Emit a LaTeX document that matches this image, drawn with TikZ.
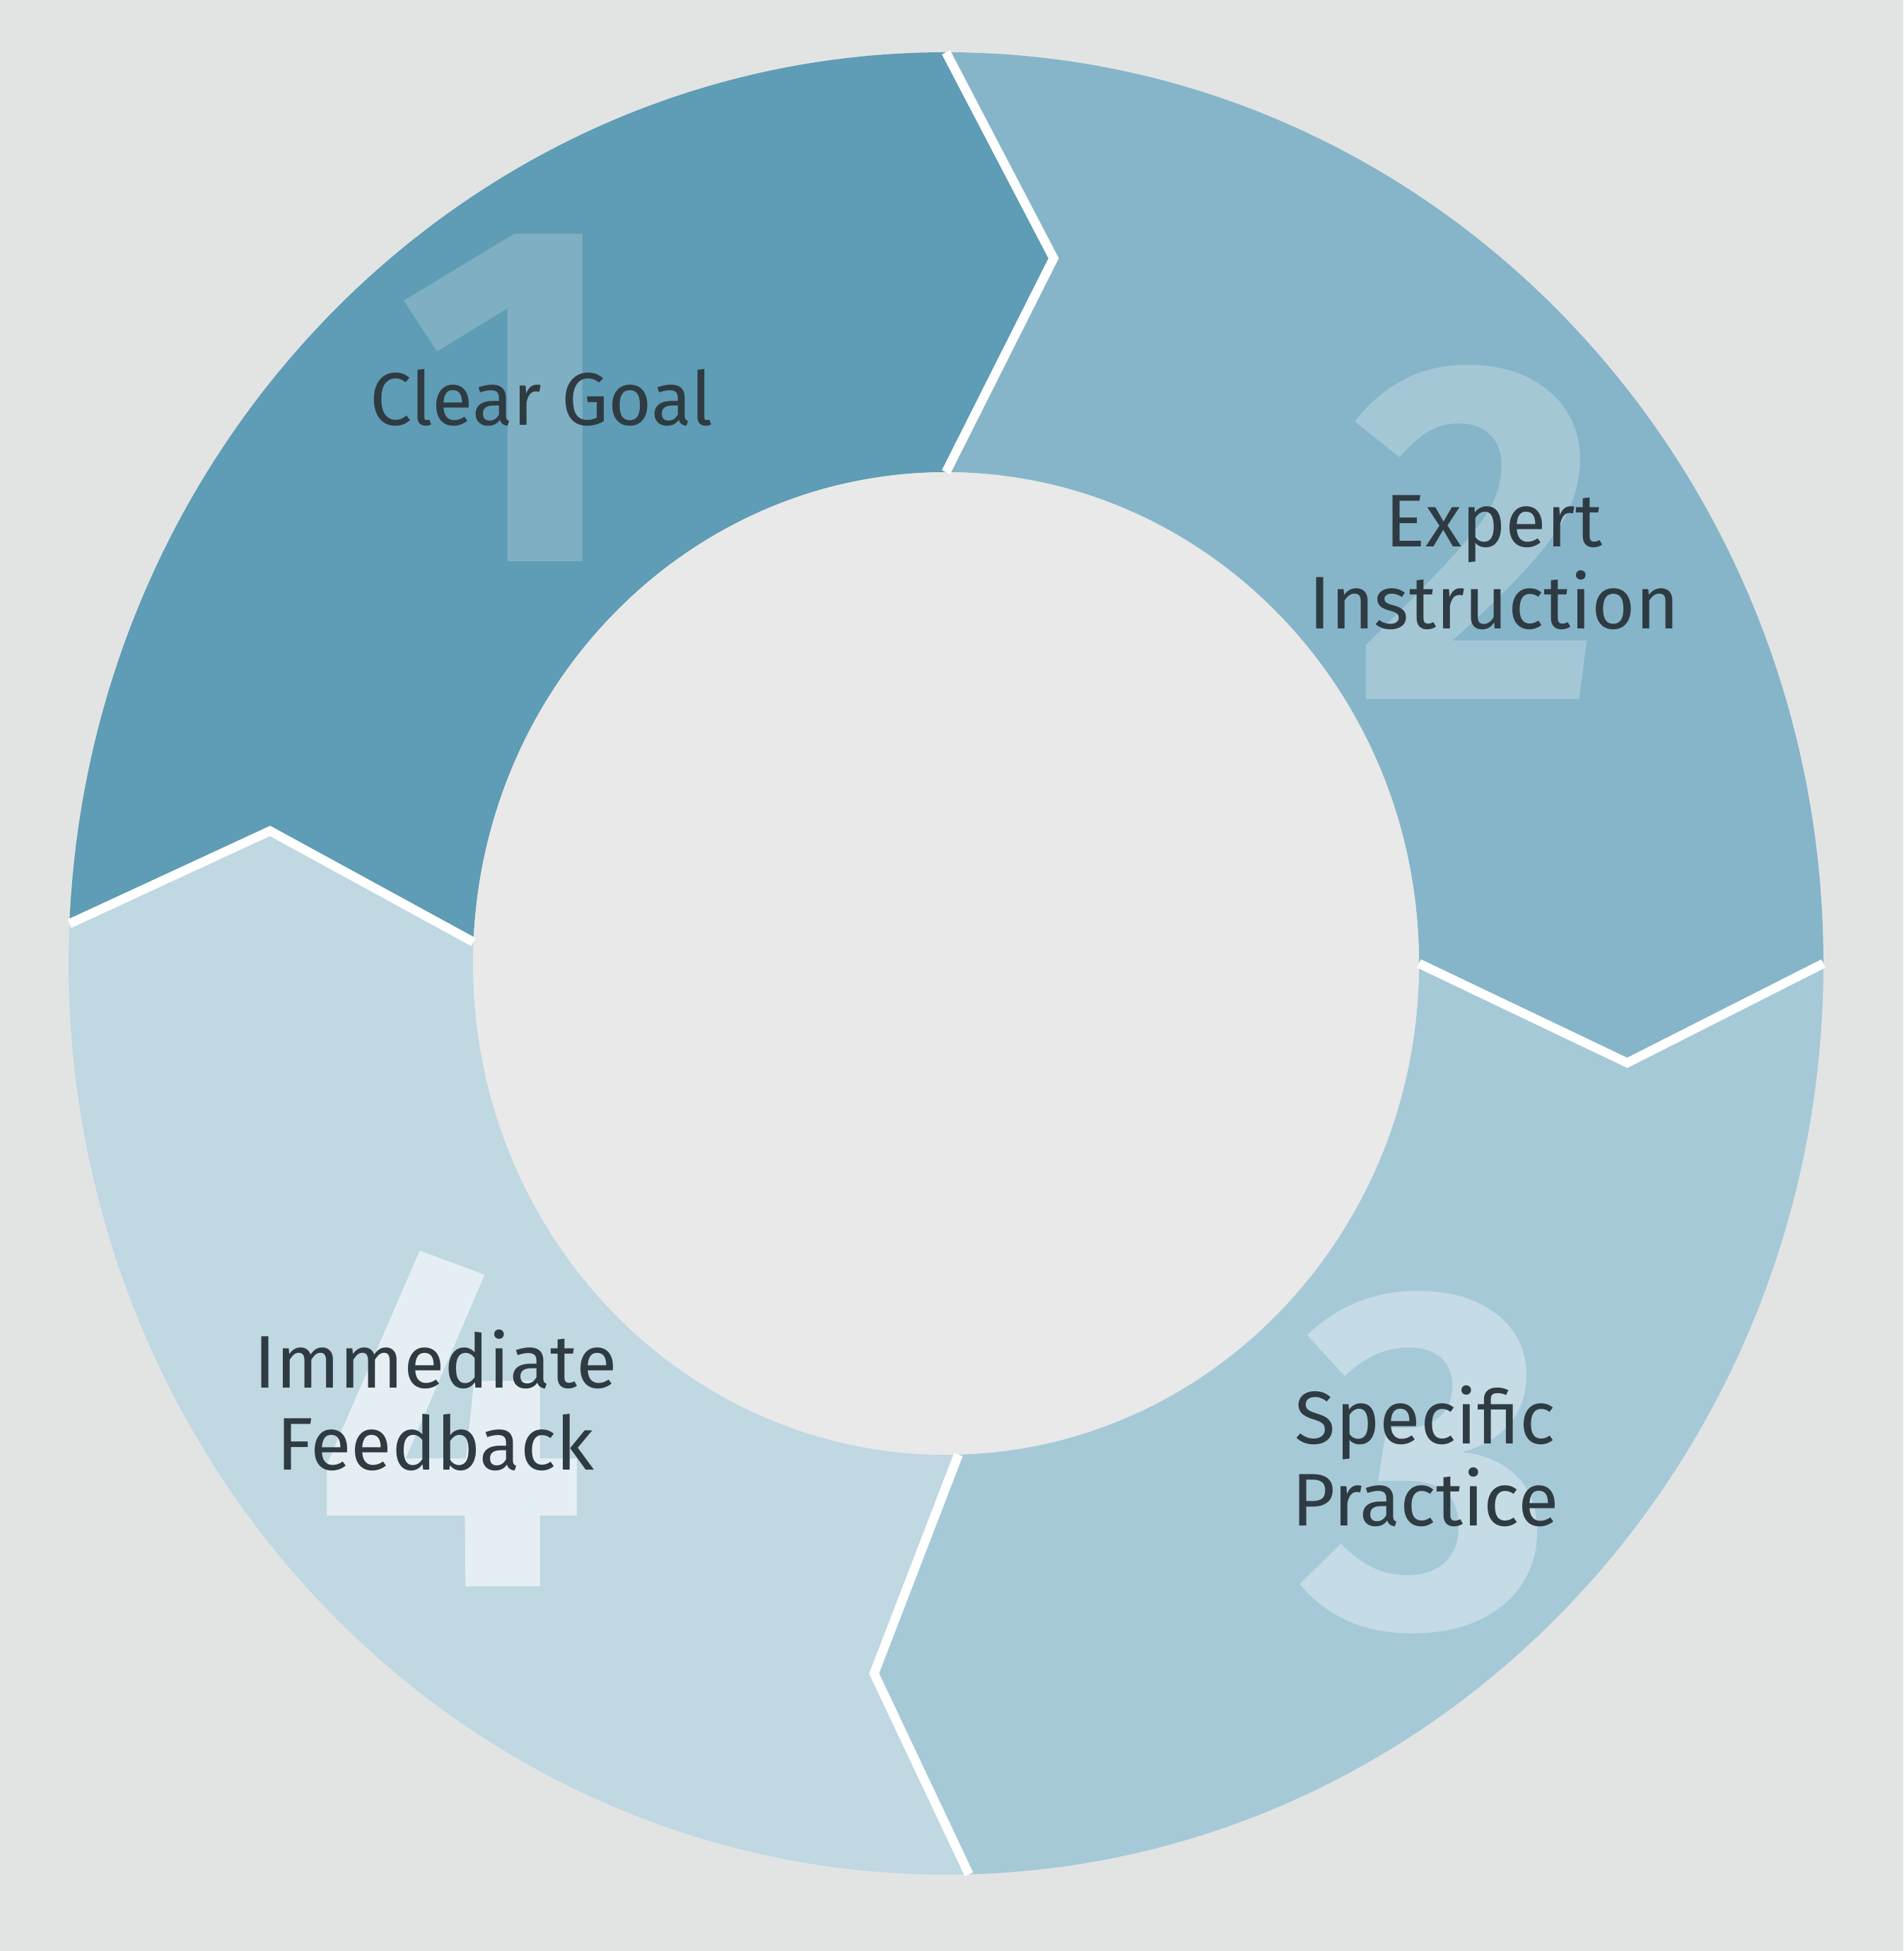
\documentclass[tikz,border=0pt]{standalone}
\usepackage{fontspec}
\setmainfont{Fira Sans}
\usepackage{tikz}

\definecolor{paper}{HTML}{E2E4E3}
\definecolor{hub}{HTML}{E8E9E8}
\definecolor{segone}{HTML}{5F9CB5}
\definecolor{segtwo}{HTML}{86B5C9}
\definecolor{segthree}{HTML}{A6C9D8}
\definecolor{segfour}{HTML}{BFD8E2}
\definecolor{ink}{HTML}{2F3B42}

\begin{document}
\begin{tikzpicture}[
		label/.style={text=ink, align=center, font=\fontsize{30}{33}\selectfont},
		digit/.style={text=white, font=\bfseries\fontsize{195}{195}\selectfont},
		gap/.style={draw=white, line width=0.13cm, line join=miter}
	]
	\useasboundingbox[fill=paper] (-13.38,-13.97) rectangle (13.54,13.63);
	% ring segments, each one a bent arrow
	\foreach \a/\ta/\b/\tb/\col in {177.5/169.3/90/81/segone,90/81/0/-8/segtwo,0/-8/-88.5/-96/segthree,-88.5/-96/-182.5/-190.7/segfour}
		\fill[\col] (\a:12.41cm and 12.89cm) arc[start angle=\a, end angle=\b, x radius=12.41cm, y radius=12.89cm]
			-- (\tb:9.73cm and 10.10cm) -- (\b:6.69cm and 6.95cm)
			arc[start angle=\b, end angle=\a, x radius=6.69cm, y radius=6.95cm]
			-- (\ta:9.73cm and 10.10cm) -- cycle;
	\fill[hub] (0,0) ellipse [x radius=6.69cm, y radius=6.95cm];
	% white gaps
	\foreach \a/\t in {177.5/169.3,90/81,0/-8,-88.5/-96}
		\draw[gap] (\a:12.41cm and 12.89cm) -- (\t:9.73cm and 10.10cm) -- (\a:6.69cm and 6.95cm);
	% big numbers
	\node[digit, text opacity=0.2] (num1) at (-6.16,8.00) {1};
	\node[digit, text opacity=0.25] (num2) at (7.52,6.10) {2};
	\node[digit, text opacity=0.35] (num3) at (6.82,-7.06) {3};
	\node[digit, text opacity=0.6] (num4) at (-7.01,-6.44) {4};
	% step names
	\node[label] (goal) at (-5.72,8.00) {Clear Goal};
	\node[label] (expert) at (7.75,5.67) {Expert\\Instruction};
	\node[label] (practice) at (6.78,-6.97) {Specific\\Practice};
	\node[label] (feedback) at (-7.22,-6.18) {Immediate\\Feedback};
\end{tikzpicture}
\end{document}
